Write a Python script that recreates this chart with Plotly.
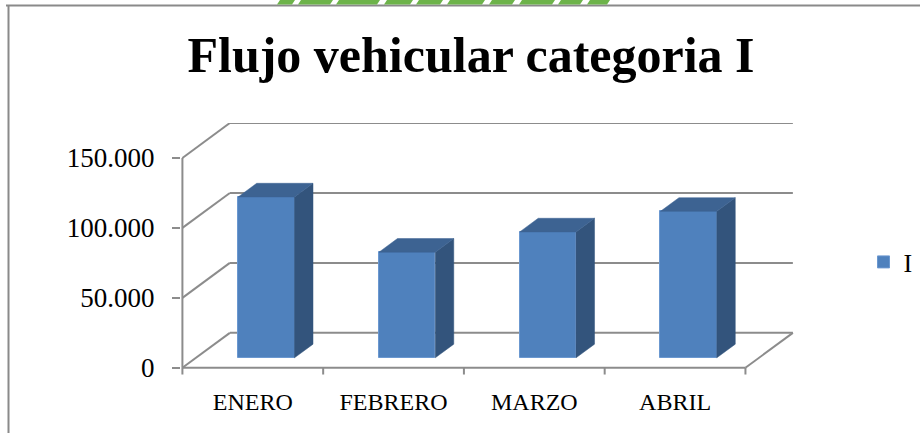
import plotly.graph_objects as go

# ---------------- data ----------------
categories = ["ENERO", "FEBRERO", "MARZO", "ABRIL"]
values = [115000, 75500, 90000, 104700]
series_name = "I"
y_tick_vals = [0, 50000, 100000, 150000]
y_tick_text = ["0", "50.000", "100.000", "150.000"]
title_text = "Flujo vehicular categoria I"

# ---------------- layout constants ----------------
W, H = 920, 433
ML, MR, MT, MB = 181, 126, 123, 54
X0, X1 = -0.51, 3.845
Y0, Y1 = -8000, 175000
SERIF = "Liberation Serif"
GRID = "#8c8c8c"
FRONT = "#4F81BD"
SIDE = "#33547c"
TOP = "#3d6392"

# pseudo-3D depth (oblique projection) in data units
DX, DY = 0.337, 25000          # full floor depth
D0, DD = 0.286, 0.39           # bar front position / bar depth (fractions)
BW = 0.40                      # bar width in category units
bx, by = D0 * DX, D0 * DY
sx, sy = DD * DX, DD * DY

PW = W - ML - MR
PH = H - MT - MB


def px(p):
    return (p - ML) / PW


def py(p):
    return (H - MB - p) / PH


fig = go.Figure()

# front faces
xs = list(range(len(categories)))
fig.add_trace(go.Bar(
    x=[i + bx for i in xs], y=values, base=by, width=BW,
    marker=dict(color=FRONT, line=dict(color="#6b98d0", width=1)),
    name=series_name, showlegend=True, hoverinfo="skip",
))

# side + top faces
for i, v in zip(xs, values):
    xl = i + bx - BW / 2
    xr = i + bx + BW / 2
    fig.add_trace(go.Scatter(
        x=[xr, xr + sx, xr + sx, xr, xr],
        y=[by, by + sy, by + sy + v, by + v, by],
        fill="toself", fillcolor=SIDE, mode="lines",
        line=dict(color=SIDE, width=0.5), showlegend=False, hoverinfo="skip"))
    fig.add_trace(go.Scatter(
        x=[xl, xr, xr + sx, xl + sx, xl],
        y=[by + v, by + v, by + sy + v, by + sy + v, by + v],
        fill="toself", fillcolor=TOP, mode="lines",
        line=dict(color=TOP, width=0.5), showlegend=False, hoverinfo="skip"))

shapes = []


def dline(x0, y0, x1, y1, w=2):
    shapes.append(dict(type="line", xref="x", yref="y", x0=x0, y0=y0, x1=x1, y1=y1,
                       line=dict(color=GRID, width=w), layer="below"))


xa, xb = -0.5, len(categories) - 0.5
for v in y_tick_vals:
    dline(xa + DX, v + DY, xb + DX, v + DY)      # back wall gridline
    dline(xa, v, xa + DX, v + DY)                # side wall diagonal
dline(xa, 0, xb, 0)                               # front floor edge
dline(xb, 0, xb + DX, DY)                         # right floor edge
dline(xa, 0, xa, y_tick_vals[-1])                 # front value axis
for k in range(len(categories) + 1):
    dline(xa + k, 0, xa + k, -4800)               # category boundary ticks

# frame border and logo sliver (decoration, paper coords)
shapes.append(dict(type="line", xref="paper", yref="paper", x0=px(6), x1=px(920),
                   y0=py(5.5), y1=py(5.5), line=dict(color="#8a8a8a", width=2)))
shapes.append(dict(type="line", xref="paper", yref="paper", x0=px(8.5), x1=px(8.5),
                   y0=py(5), y1=py(433), line=dict(color="#8a8a8a", width=2)))
segs = [(277, 292), (298, 330), (336, 377), (384, 410), (416, 440), (447, 482),
        (489, 512), (519, 552), (558, 580), (587, 607)]
for a, b in segs:
    path = "M{},{} L{},{} L{},{} L{},{} Z".format(
        px(a + 3), py(0), px(b + 3), py(0), px(b), py(4.5), px(a), py(4.5))
    shapes.append(dict(type="path", xref="paper", yref="paper", path=path,
                       fillcolor="#6db34a", line=dict(width=0)))

fig.update_layout(
    width=W, height=H,
    margin=dict(l=ML, r=MR, t=MT, b=MB, autoexpand=False),
    paper_bgcolor="white", plot_bgcolor="white",
    shapes=shapes,
    title=dict(text=title_text, x=471 / W, xanchor="center", y=1 - 37 / H, yanchor="top",
               font=dict(family=SERIF, size=50, weight="bold", color="black")),
    xaxis=dict(range=[X0, X1], tickvals=xs, ticktext=categories, showgrid=False,
               zeroline=False, showline=False, ticks="", ticklabelstandoff=6,
               tickfont=dict(family=SERIF, size=24, color="black"), fixedrange=True),
    yaxis=dict(range=[Y0, Y1], tickvals=y_tick_vals, ticktext=y_tick_text, showgrid=False,
               zeroline=False, showline=False, ticks="outside", ticklen=8, tickwidth=2,
               tickcolor=GRID, ticklabelstandoff=12,
               tickfont=dict(family=SERIF, size=27, color="black"), fixedrange=True),
    legend=dict(x=px(863.5), xanchor="left", y=py(262), yanchor="middle",
                font=dict(family=SERIF, size=26, color="black"), bgcolor="rgba(0,0,0,0)"),
    showlegend=True,
    bargap=0,
)

fig.write_html("out.html", config={"displayModeBar": False},
               post_script="document.body.style.margin='0';")
